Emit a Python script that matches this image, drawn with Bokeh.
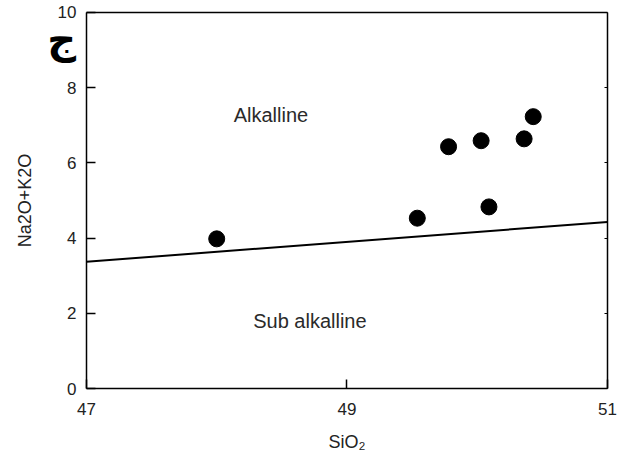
from bokeh.plotting import figure
from bokeh.models import LinearAxis, Label, FixedTicker, Range1d
from bokeh.embed import file_html
from bokeh.resources import INLINE

# data
sio2 = [48.00, 49.54, 49.78, 50.03, 50.09, 50.36, 50.43]
alk = [3.98, 4.53, 6.43, 6.59, 4.83, 6.64, 7.23]
div_x = [47.0, 51.0]
div_y = [3.37, 4.43]
x_ticks = [47, 49, 51]
y_ticks = [0, 2, 4, 6, 8, 10]
region_labels = ["Alkalline", "Sub alkalline"]
region_x = [48.13, 48.28]
region_y = [7.28, 1.79]
panel_mark = "\u062c"
panel_mark_x = 46.81
panel_mark_y = 9.3

X0, X1 = x_ticks[0], x_ticks[-1]
Y0, Y1 = y_ticks[0], y_ticks[-1]
FONT = "Liberation Sans"

# the frame fills the page; the axes are pinned to the 47-51 / 0-10 box so that
# the panel letter and every tick label can be drawn beside it
p = figure(width=617, height=461, output_backend="svg", toolbar_location=None,
           x_range=Range1d(46.34, 51.077), y_range=Range1d(-1.941, 10.319),
           min_border_left=0, min_border_right=0, min_border_top=0, min_border_bottom=0)
p.title.visible = False
p.grid.visible = False
p.background_fill_color = "white"
p.border_fill_color = "white"
p.outline_line_color = None

for ax in (p.xaxis[0], p.yaxis[0]):
    ax.axis_line_color = "black"
    ax.axis_line_width = 1.5
    ax.major_tick_in = 9
    ax.major_tick_out = 0
    ax.major_tick_line_color = "black"
    ax.major_tick_line_width = 1.5
    ax.minor_tick_line_color = None
    ax.major_label_text_font = FONT
    ax.major_label_text_font_size = "17px"
    ax.major_label_text_color = "#222222"
    ax.axis_label_text_font = FONT
    ax.axis_label_text_font_style = "normal"
    ax.axis_label_text_font_size = "18px"
    ax.axis_label_text_color = "#222222"

p.xaxis[0].ticker = FixedTicker(ticks=x_ticks)
p.xaxis[0].bounds = (X0, X1)
p.xaxis[0].fixed_location = Y0
p.yaxis[0].ticker = FixedTicker(ticks=y_ticks)
p.yaxis[0].bounds = (Y0, Y1)
p.yaxis[0].fixed_location = X0
p.xaxis[0].axis_label = "SiO\u2082"
p.yaxis[0].axis_label = "Na2O+K2O"
p.xaxis[0].major_label_standoff = 14
p.yaxis[0].major_label_standoff = 10
p.xaxis[0].axis_label_standoff = 14
p.yaxis[0].axis_label_standoff = 20

right = LinearAxis(ticker=FixedTicker(ticks=y_ticks), bounds=(Y0, Y1), fixed_location=X1,
                   major_label_overrides={t: "" for t in y_ticks},
                   major_tick_in=3, major_tick_out=0, minor_tick_line_color=None,
                   axis_line_color="black", axis_line_width=1.5,
                   major_tick_line_color="black", major_tick_line_width=1)
p.add_layout(right, "right")

top = LinearAxis(ticker=FixedTicker(ticks=[]), bounds=(X0, X1), fixed_location=Y1,
                 major_tick_in=0, major_tick_out=0, minor_tick_line_color=None,
                 axis_line_color="black", axis_line_width=1.5)
p.add_layout(top, "above")

p.line(div_x, div_y, line_color="black", line_width=2)
p.scatter(sio2, alk, size=16, fill_color="black", line_color="black", marker="circle")

for t, x, y in zip(region_labels, region_x, region_y):
    p.add_layout(Label(x=x, y=y, text=t, text_font=FONT, text_font_size="20px",
                       text_color="#2a2a2a", text_align="left", text_baseline="middle"))

p.add_layout(Label(x=panel_mark_x, y=panel_mark_y, text=panel_mark, text_font="DejaVu Sans",
                   text_font_style="bold", text_font_size="40px", text_color="black",
                   text_align="center", text_baseline="middle"))

open("out.html", "w").write(file_html(p, INLINE))
